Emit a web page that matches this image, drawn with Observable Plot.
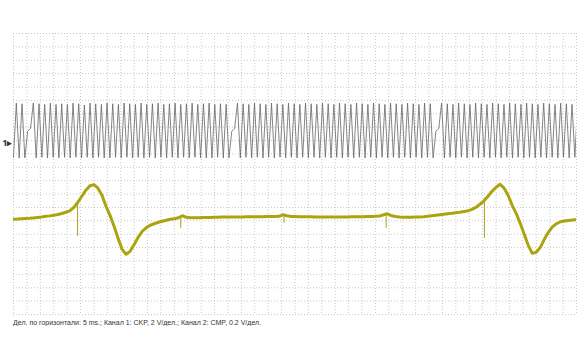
<!DOCTYPE html>
<html><head><meta charset="utf-8">
<script src="https://cdn.jsdelivr.net/npm/d3@7"></script>
<script src="https://cdn.jsdelivr.net/npm/@observablehq/plot@0.6"></script>
<style>
body{margin:0;background:#fff;font-family:"Liberation Sans",Arial,sans-serif}
#cap{font-size:7px;color:#333;padding-left:13px;margin-top:3px;white-space:nowrap}
</style>
</head><body><div id="chart"></div><div id="cap"></div>
<script>
// Channel 1 (CKP): samples at every half tooth period (grid-cell units from top)
const ckpStart = 0, ckpStep = 0.2115;
const ckpValues = [
9.25,5.2,9.3,5.25,9.3,7.3,7.1,5.2,9.3,5.25,
9.25,5.3,9.3,5.2,9.25,5.3,9.3,5.25,9.25,5.3,
9.3,5.2,9.25,5.25,9.3,5.35,9.25,5.2,9.3,5.25,
9.25,5.3,9.3,5.2,9.3,5.25,9.25,5.3,9.3,5.2,
9.25,5.25,9.3,5.3,9.25,5.2,9.3,5.3,9.25,5.25,
9.3,5.2,9.25,5.3,9.3,5.25,9.25,5.2,9.3,5.3,
9.25,5.25,9.3,5.2,9.25,5.3,9.3,5.25,9.3,5.2,
9.3,5.3,9.25,5.25,9.3,5.3,9.3,7.3,7.1,5.2,
9.3,5.25,9.25,5.3,9.3,5.2,9.25,5.25,9.3,5.3,
9.25,5.2,9.3,5.25,9.25,5.3,9.3,5.2,9.25,5.25,
9.3,5.3,9.25,5.2,9.3,5.25,9.25,5.3,9.3,5.2,
9.25,5.25,9.3,5.3,9.25,5.2,9.3,5.25,9.25,5.3,
9.3,5.2,9.25,5.25,9.3,5.3,9.25,5.2,9.3,5.25,
9.25,5.3,9.3,5.2,9.25,5.25,9.3,5.3,9.25,5.2,
9.3,5.25,9.25,5.3,9.3,5.2,9.25,5.25,9.3,7.3,
7.1,5.2,9.3,5.25,9.25,5.3,9.3,5.2,9.25,5.25,
9.3,5.3,9.25,5.2,9.3,5.25,9.25,5.3,9.3,5.2,
9.25,5.25,9.3,5.3,9.25,5.2,9.3,5.25,9.25,5.3,
9.3,5.2,9.25,5.25,9.3,5.3,9.25,5.2,9.3,5.25,
9.25,5.3,9.3,5.2,9.25,5.25,9.3,5.3,9.25,5.2
];
// Channel 2 (CMP): samples every 0.3 grid cells
const cmpStart = 0, cmpStep = 0.3;
const cmpValues = [
13.88,13.87,13.85,13.83,13.81,13.78,13.75,13.72,13.66,13.63,
13.59,13.53,13.45,13.36,13.25,12.99,12.61,12.16,11.71,11.38,
11.30,11.56,12.09,12.91,13.59,14.41,15.31,16.13,16.50,16.28,
15.76,15.23,14.78,14.52,14.33,14.22,14.11,14.03,13.96,13.88,
13.85,13.77,13.62,13.74,13.77,13.77,13.77,13.76,13.75,13.75,
13.74,13.74,13.72,13.72,13.71,13.71,13.71,13.71,13.70,13.70,
13.70,13.69,13.69,13.68,13.68,13.67,13.66,13.55,13.62,13.67,
13.68,13.69,13.69,13.70,13.70,13.71,13.71,13.71,13.72,13.72,
13.72,13.72,13.71,13.71,13.70,13.70,13.69,13.69,13.68,13.67,
13.66,13.64,13.55,13.47,13.62,13.68,13.72,13.74,13.74,13.73,
13.72,13.71,13.69,13.66,13.62,13.59,13.55,13.51,13.47,13.44,
13.40,13.36,13.31,13.25,13.14,12.99,12.76,12.50,12.16,11.79,
11.49,11.27,11.56,12.09,12.84,13.44,14.18,15.01,15.83,16.43,
16.35,15.98,15.38,14.86,14.45,14.22,14.07,14.01,13.97,13.94,
13.92,13.91
];
// CMP narrow spikes
const spikeX = [4.78, 12.48, 20.18, 27.80, 35.13];
const spikeFrom = [12.61, 13.66, 13.59, 13.51, 12.31];
const spikeTo = [15.16, 14.56, 14.18, 14.56, 15.31];
const ch1Ref = 8.22;
const ch1Label = "1▸";
const caption = "Дел. по горизонтали: 5 ms.; Канал 1: CKP, 2 V/дел.; Канал 2: CMP, 0.2 V/дел.";

const gridX = d3.range(0, 43);
const gridY = d3.range(0, 22);
const ckp = ckpValues.map((v, i) => ({t: ckpStart + i * ckpStep, v}));
const cmp = cmpValues.map((v, i) => ({t: cmpStart + i * cmpStep, v}));
const spikes = spikeX.map((x, i) => ({x, y1: spikeFrom[i], y2: spikeTo[i]}));
const olive = "#aaa410";

const chart = Plot.plot({
  width: 578, height: 316,
  marginLeft: 13, marginRight: 2, marginTop: 33, marginBottom: 2,
  x: {domain: [0, 42], axis: null},
  y: {domain: [0, 21], reverse: true, axis: null},
  marks: [
    Plot.ruleX(gridX, {x: d => d, stroke: "#c8c8c8", strokeDasharray: "1 2"}),
    Plot.ruleY(gridY, {y: d => d, stroke: "#c8c8c8", strokeDasharray: "1 2"}),
    Plot.line(cmp, {x: "t", y: "v", stroke: olive, strokeWidth: 3, clip: true}),
    Plot.ruleX(spikes, {x: "x", y1: "y1", y2: "y2", stroke: olive, strokeWidth: 1}),
    Plot.line(ckp, {x: "t", y: "v", stroke: "#666", strokeWidth: 0.8, clip: true}),
    Plot.text([ch1Ref], {x: 0, y: d => d, text: () => ch1Label, textAnchor: "end", dx: -1, fontSize: 9, fill: "#333", fontWeight: "bold"})
  ]
});
document.getElementById("chart").appendChild(chart);
document.getElementById("cap").textContent = caption;
</script>
</body></html>
